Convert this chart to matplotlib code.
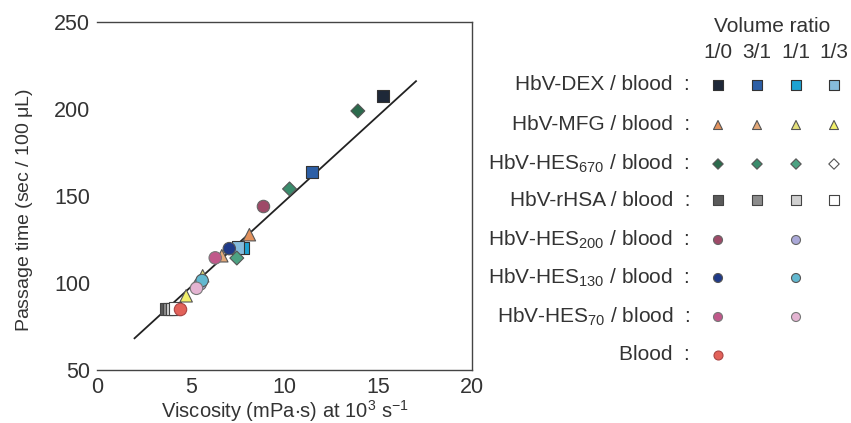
import matplotlib.pyplot as plt

plt.rcParams['font.family'] = ['Liberation Sans', 'DejaVu Sans']
plt.rcParams['text.color'] = '#333333'
plt.rcParams['axes.labelcolor'] = '#333333'
plt.rcParams['xtick.color'] = '#333333'
plt.rcParams['ytick.color'] = '#333333'

# viscosity (x) / passage time (y) per suspension, volume ratio 1/0, 3/1, 1/1, 1/3
ratios = ['1/0', '3/1', '1/1', '1/3']

dex_x = [15.25, 11.45, 7.75, 7.5]
dex_y = [207.5, 163.7, 120.0, 120.5]
mfg_x = [8.12, 6.65, 5.63, 4.75]
mfg_y = [127.8, 115.7, 104.2, 92.7]
hes670_x = [13.9, 10.26, 7.45, 5.4]
hes670_y = [198.9, 154.1, 114.4, 99.0]
rhsa_x = [3.7, 3.85, 4.0, 4.15]
rhsa_y = [85.0, 85.0, 85.0, 85.3]
hes200_x = [8.87, 5.5]
hes200_y = [144.0, 99.5]
hes130_x = [7.05, 5.6]
hes130_y = [119.8, 101.5]
hes70_x = [6.3, 5.3]
hes70_y = [114.5, 97.0]
blood_x = [4.4]
blood_y = [85.0]

# regression line end points
fit_x = [2.0, 17.0]
fit_y = [68.3, 216.0]

series = [
    ('HbV-DEX / blood  :', dex_x, dex_y, 's',
     ['#1e2838', '#2d5fa6', '#1ea3d2', '#86bcdc'], '#333333'),
    ('HbV-MFG / blood  :', mfg_x, mfg_y, '^',
     ['#e2915c', '#e3a878', '#e4e07a', '#f2f06a'], '#555555'),
    (r'HbV-HES$_\mathregular{670}$ / blood  :', hes670_x, hes670_y, 'D',
     ['#2b6a4c', '#3a8c6c', '#4ca282', '#ffffff'], '#555555'),
    ('HbV-rHSA / blood  :', rhsa_x, rhsa_y, 's',
     ['#5a5a5a', '#8c8c8c', '#d0d0d0', '#ffffff'], '#444444'),
    (r'HbV-HES$_\mathregular{200}$ / blood  :', hes200_x, hes200_y, 'o',
     ['#9e4a68', '#aaa8d8'], '#666666'),
    (r'HbV-HES$_\mathregular{130}$ / blood  :', hes130_x, hes130_y, 'o',
     ['#1f3a88', '#62b8d0'], '#555555'),
    (r'HbV-HES$_\mathregular{70}$ / blood  :', hes70_x, hes70_y, 'o',
     ['#c0588a', '#e4b4d2'], '#777777'),
    ('Blood  :', blood_x, blood_y, 'o', ['#e2625a'], '#aa4444'),
]

fig = plt.figure(figsize=(8.51, 4.23), dpi=100)
ax = fig.add_axes([0.114, 0.125, 0.441, 0.823])

ax.plot(fit_x, fit_y, color='#222222', lw=1.3, zorder=1)
for label, xs, ys, mk, cols, ec in series:
    ms = 80 if mk != 'D' else 50
    ax.scatter(xs, ys, marker=mk, s=ms, c=cols[:len(xs)], edgecolors=ec,
               linewidths=0.8, zorder=3)

ax.set_xlim(0, 20)
ax.set_ylim(50, 250)
ax.set_xticks([0, 5, 10, 15, 20])
ax.set_yticks([50, 100, 150, 200, 250])
ax.tick_params(length=0, labelsize=15.5, pad=5)
ax.spines['left'].set_visible(False)
for s in ['top', 'right', 'bottom']:
    ax.spines[s].set_color('#444444')
    ax.spines[s].set_linewidth(1.0)
ax.set_xlabel(r'Viscosity (mPa$\mathregular{\cdot}$s) at 10$^\mathregular{3}$ s$^\mathregular{-1}$',
              fontsize=14.5, labelpad=0)
ax.set_ylabel(r'Passage time (sec / 100 $\mathregular{\mu}$L)', fontsize=14)
ax.yaxis.set_label_coords(-0.165, 0.46)

# key on the right, in pixel coordinates
key = fig.add_axes([0, 0, 1, 1], zorder=-1)
key.set_xlim(0, 851)
key.set_ylim(423, 0)
key.axis('off')

col_x = [718, 757, 796, 834]
row_y = [85, 125, 164, 200, 240, 278, 317, 355]

key.text(772, 27, 'Volume ratio', ha='center', va='center', fontsize=15)
for cx, r in zip(col_x, ratios):
    key.text(cx, 53, r, ha='center', va='center', fontsize=15)

for ry, (label, xs, ys, mk, cols, ec) in zip(row_y, series):
    key.text(690, ry, label, ha='right', va='center', fontsize=15)
    if len(cols) == 2:
        cxs = [col_x[0], col_x[2]]
    else:
        cxs = col_x[:len(cols)]
    ms = 42 if mk != 'D' else 28
    key.scatter(cxs, [ry] * len(cxs), marker=mk, s=ms, c=cols,
                edgecolors=ec, linewidths=0.8)

fig.savefig('out.png', dpi=100)
